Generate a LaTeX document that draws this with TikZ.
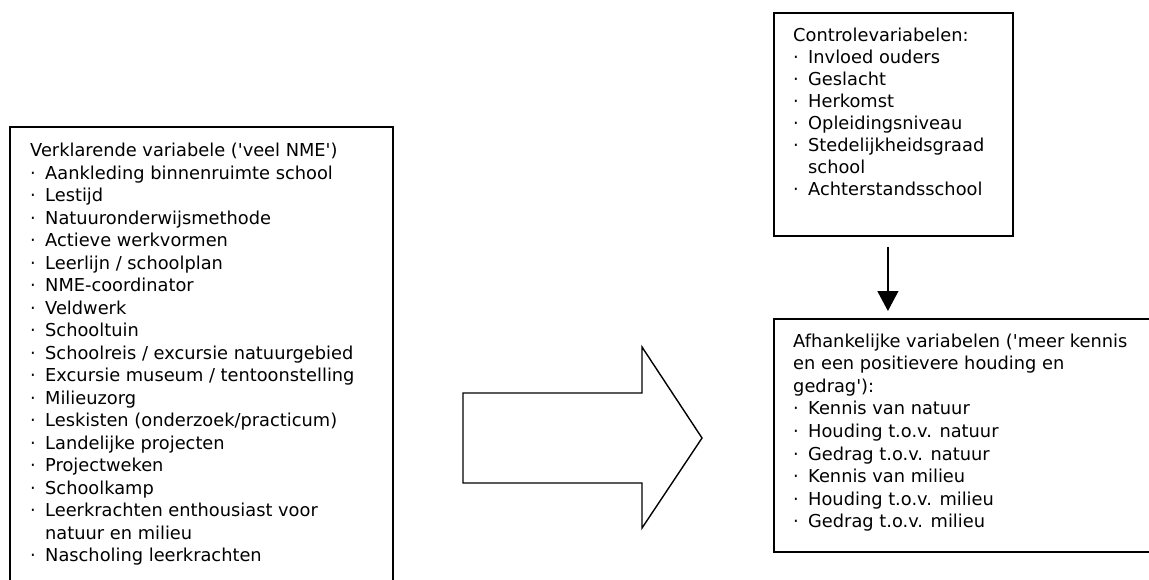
\documentclass[tikz,border=0pt]{standalone}
\usepackage{fontspec}
\setmainfont{DejaVu Sans}
\usetikzlibrary{arrows.meta}
\newcommand{\itm}[1]{\makebox[15pt][l]{·}#1\\}
\newcommand{\cnt}[1]{\hspace*{15pt}#1\\}
\newcommand{\q}{\textquotesingle}
\begin{document}
\begin{tikzpicture}[x=1pt,y=-1pt,
  box/.style={draw=black,line width=1.8pt,inner sep=0pt,anchor=north west},
  txt/.style={inner sep=0pt,anchor=base west}]
\clip (0,0) rectangle (1149,580);
\useasboundingbox (0,0) rectangle (1149,580);
% boxes
\node[box,minimum width=383pt,minimum height=500pt] (lbox) at (9,126) {};
\node[box,minimum width=239pt,minimum height=223pt] (cbox) at (773,12) {};
\node[box,minimum width=420pt,minimum height=233pt] (dbox) at (773,318) {};
% texts
\node[txt] (ltxt) at (30,157) {\parbox[t]{360pt}{\fontsize{17.8}{22.5}\selectfont\raggedright
Verklarende variabele (\q veel NME\q)\\
\itm{Aankleding binnenruimte school}
\itm{Lestijd}
\itm{Natuuronderwijsmethode}
\itm{Actieve werkvormen}
\itm{Leerlijn / schoolplan}
\itm{NME-coordinator}
\itm{Veldwerk}
\itm{Schooltuin}
\itm{Schoolreis / excursie natuurgebied}
\itm{Excursie museum / tentoonstelling}
\itm{Milieuzorg}
\itm{Leskisten (onderzoek/practicum)}
\itm{Landelijke projecten}
\itm{Projectweken}
\itm{Schoolkamp}
\itm{Leerkrachten enthousiast voor}
\cnt{natuur en milieu}
\makebox[15pt][l]{·}Nascholing leerkrachten}};
\node[txt] (ctxt) at (793,42) {\parbox[t]{215pt}{\fontsize{17.8}{22}\selectfont\raggedright
Controlevariabelen:\\
\itm{Invloed ouders}
\itm{Geslacht}
\itm{Herkomst}
\itm{Opleidingsniveau}
\itm{Stedelijkheidsgraad}
\cnt{school}
\makebox[15pt][l]{·}Achterstandsschool}};
\node[txt] (dtxt) at (793,347) {\parbox[t]{350pt}{\fontsize{17.8}{22.6}\selectfont\raggedright
Afhankelijke variabelen (\q meer kennis\\
en een positievere houding en\\
gedrag\q):\\
\itm{Kennis van natuur}
\itm{Houding t.o.v. natuur}
\itm{Gedrag t.o.v. natuur}
\itm{Kennis van milieu}
\itm{Houding t.o.v. milieu}
\makebox[15pt][l]{·}Gedrag t.o.v. milieu}};
% big arrow
\draw[line width=1.4pt,line join=miter] (463,393) -- (642,393) -- (642,347) -- (702,438) -- (642,528) -- (642,483) -- (463,483) -- cycle;
% down arrow
\draw[line width=1.2pt,-{Triangle[width=21pt,length=20pt]},shorten <=10pt,shorten >=7pt]
  ([xshift=-5.5pt]cbox.south) -- ([xshift=-5.5pt]cbox.south |- dbox.north);
\end{tikzpicture}
\end{document}
